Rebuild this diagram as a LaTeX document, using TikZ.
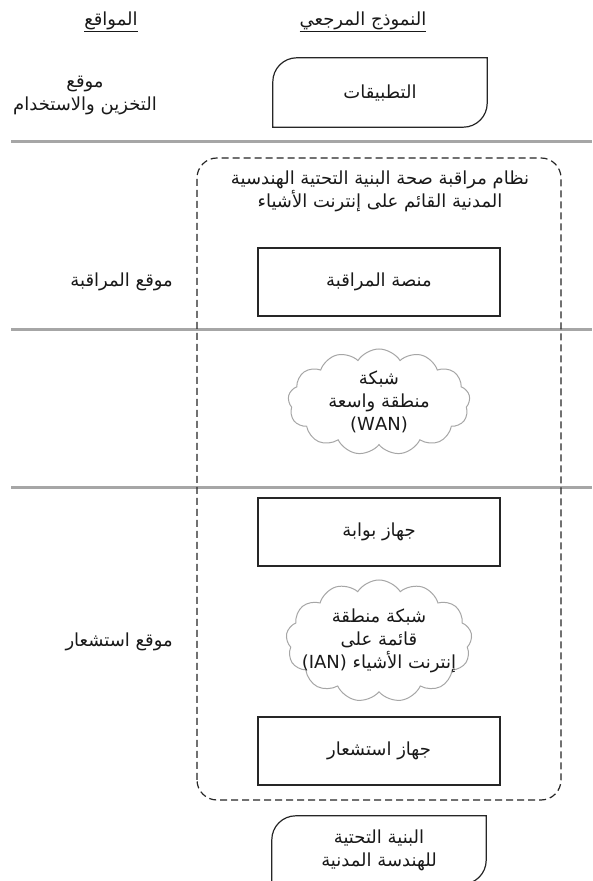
\documentclass[tikz,border=0pt]{standalone}
\usepackage{fontspec}
\setmainfont{DejaVu Sans}
\newfontfamily\arabicfont[Script=Arabic]{DejaVu Sans}
\TeXXeTstate=1
\usetikzlibrary{shapes.symbols}
\newcommand{\RL}[1]{\beginR #1\endR}
\begin{document}
\begin{tikzpicture}[x=1pt,y=1pt,
  every node/.style={font=\arabicfont\fontsize{18}{23}\selectfont, align=center, inner sep=0pt, text=black!90},
  frame/.style={draw=black!85, line width=1.2pt},
  boxnode/.style={frame, minimum width=242pt, minimum height=68pt},
  sep/.style={draw=black!35, line width=3pt},
  cloudnode/.style={cloud, draw=black!35, line width=1pt, cloud puffs=13, cloud puff arc=115, cloud ignores aspect, minimum width=182pt, minimum height=106pt}
]
\useasboundingbox (0,0) rectangle (592,881);
\fill[white] (0,0) rectangle (592,881);

% headers
\node (hsites) at (111,859) {\underline{\hbox{\RL{المواقع}}}};
\node (hmodel) at (363,859) {\underline{\hbox{\RL{النموذج المرجعي}}}};

% separators
\coordinate (s1a) at (11,739); \coordinate (s1b) at (592,739);
\coordinate (s2a) at (11,551); \coordinate (s2b) at (592,551);
\coordinate (s3a) at (11,393); \coordinate (s3b) at (592,393);
\draw[sep] (s1a) -- (s1b);
\draw[sep] (s2a) -- (s2b);
\draw[sep] (s3a) -- (s3b);

% dashed system box
\draw[frame, dash pattern=on 7pt off 4pt, rounded corners=20pt] (197,81) rectangle (561,723);
\node (title) at (380,690) {\RL{نظام مراقبة صحة البنية التحتية الهندسية}\\\RL{المدنية القائم على إنترنت الأشياء}};

% applications
\node[minimum width=214pt, minimum height=69pt] (apps) at (380,788.5) {\RL{التطبيقات}};
\draw[frame] ([xshift=24pt]apps.north west) -- (apps.north east) -- ([yshift=24pt]apps.south east)
  arc[start angle=0, end angle=-90, radius=24pt] -- (apps.south west) -- ([yshift=-24pt]apps.north west)
  arc[start angle=180, end angle=90, radius=24pt] -- cycle;
\node (storage) at (85,786) {\RL{موقع}\\\RL{التخزين والاستخدام}};

% monitoring
\node[boxnode] (platform) at (379,599) {\RL{منصة المراقبة}};
\node[anchor=east] (monsite) at (173,599) {\RL{موقع المراقبة}};

% WAN
\node[cloudnode] (wan) at (379,479) {};
\node (wantext) at (379,479) {\RL{شبكة}\\\RL{منطقة واسعة}\\(WAN)};

% gateway
\node[boxnode] (gateway) at (379,349) {\RL{جهاز بوابة}};

% IAN
\node[cloudnode, minimum width=186pt, minimum height=122pt] (ian) at (379,240) {};
\node (iantext) at (379,240) {\RL{شبكة منطقة}\\\RL{قائمة على}\\\RL{إنترنت الأشياء \beginL(IAN)\endL}};
\node[anchor=east] (senssite) at (173,239) {\RL{موقع استشعار}};

% sensor
\node[boxnode] (sensor) at (379,130) {\RL{جهاز استشعار}};

% infrastructure
\node[minimum width=214pt, minimum height=68pt] (infra) at (379,31) {\RL{البنية التحتية}\\\RL{للهندسة المدنية}};
\draw[frame] ([xshift=24pt]infra.north west) -- (infra.north east) -- ([yshift=24pt]infra.south east)
  arc[start angle=0, end angle=-90, radius=24pt] -- (infra.south west) -- ([yshift=-24pt]infra.north west)
  arc[start angle=180, end angle=90, radius=24pt] -- cycle;
\end{tikzpicture}
\end{document}
